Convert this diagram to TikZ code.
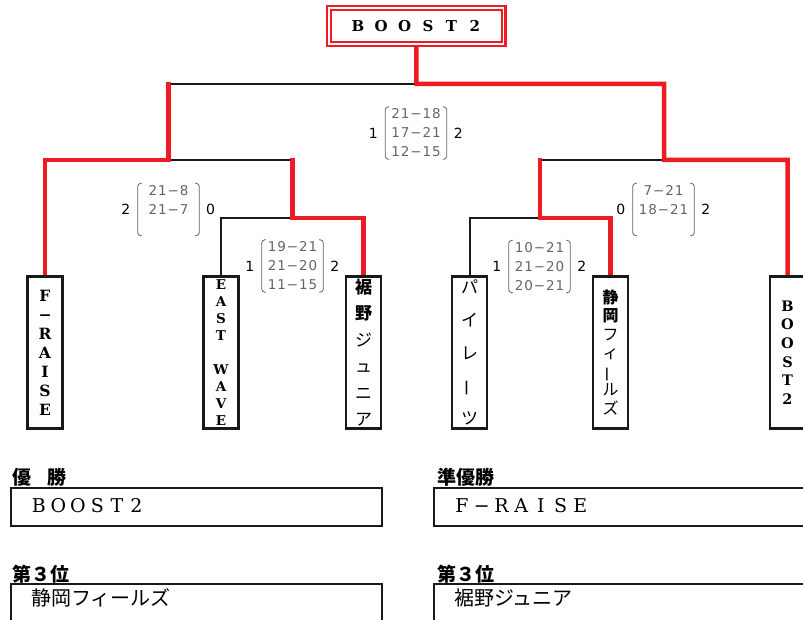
\documentclass[tikz,border=0pt]{standalone}
\usepackage{fontspec}
\usepackage{graphicx}
\usetikzlibrary{backgrounds}
\setmainfont{DejaVu Serif}
\newfontfamily\jpfont{Noto Sans CJK JP}
\newfontfamily\scorefont{DejaVu Sans}[LetterSpace=7]
\newfontfamily\numfont{DejaVu Sans}
\definecolor{winred}{RGB}{237,28,36}
\definecolor{scoregray}{RGB}{100,100,100}
\newcommand\vbar{\rotatebox[origin=c]{90}{ー}}
\newcommand\fwc[2]{\makebox[#1]{#2}}
\newcommand\scoreblk[6]{%
  \node[brk] (#1) at (#2,#3) {};
  \draw[brkline] ([xshift=4]#1.north west) -- (#1.north west) -- (#1.south west) -- ([xshift=4]#1.south west);
  \draw[brkline] ([xshift=-4]#1.north east) -- (#1.north east) -- (#1.south east) -- ([xshift=-4]#1.south east);
  \node[rows, anchor=north] (#1rows) at ([yshift=-1.5]#1.north) {#6};
  \node[outnum] (#1l) at ([xshift=-12]#1.west) {#4};
  \node[outnum] (#1r) at ([xshift=11.5]#1.east) {#5};
}
\begin{document}
\begin{tikzpicture}[x=1pt,y=-1pt,
  win/.style={draw=winred, line width=4.5pt, line cap=rect},
  lose/.style={draw=black!90, line width=2pt},
  leaf/.style={draw=black!90, line width=2.2pt, minimum width=35, minimum height=152, inner sep=0, align=center},
  topbox/.style={draw=winred, double=white, double distance=1.3pt, line width=2.3pt, minimum width=174.8, minimum height=36.1, inner sep=0},
  brk/.style={minimum width=61, minimum height=52, inner sep=0},
  brkline/.style={draw=scoregray, line width=0.8pt, rounded corners=3pt},
  rows/.style={inner sep=0, align=center, text=scoregray, font=\scorefont\fontsize{13.5}{19}\selectfont},
  outnum/.style={inner sep=0, font=\numfont\fontsize{14}{16}\selectfont},
  resbox/.style={draw=black!90, line width=2pt, inner sep=0, anchor=north west},
  lbl/.style={inner sep=0, anchor=west, font=\jpfont\bfseries\fontsize{19}{21}\selectfont},
  restext/.style={inner sep=0, anchor=west}
]
\useasboundingbox (0,0) rectangle (803,620);
\clip (0,0) rectangle (803,620);

% final winner box
\node[topbox, font=\bfseries\fontsize{15}{17}\selectfont] (top) at (416.35,26) {\fwc{23.4pt}{B}\fwc{23.4pt}{O}\fwc{23.4pt}{O}\fwc{23.4pt}{S}\fwc{23.4pt}{T}\fwc{23.4pt}{2}};

% leaves
\node[leaf, font=\bfseries\fontsize{15.5}{19}\selectfont] (fr) at (45,352.5) {F\\−\\R\\A\\I\\S\\E};
\node[leaf, font=\bfseries\fontsize{13.5}{17.1}\selectfont] (ew) at (221,352.5) {E\\A\\S\\T\\[17.1pt]W\\A\\V\\E};
\node[leaf, font=\jpfont\fontsize{17}{26.4}\selectfont] (su) at (363.5,352.5) {\textbf{裾}\\\textbf{野}\\ジ\\ュ\\ニ\\ア};
\node[leaf, font=\jpfont\fontsize{17}{32.75}\selectfont] (pi) at (469.5,352.5) {パ\\イ\\レ\\\vbar\\ツ};
\node[leaf, font=\jpfont\fontsize{16}{18.5}\selectfont] (sh) at (610.5,352.5) {\textbf{静}\\\textbf{岡}\\フ\\ィ\\\vbar\\ル\\ズ};
\node[leaf, font=\bfseries\fontsize{14.5}{18.6}\selectfont] (bo) at (787.5,352.5) {B\\O\\O\\S\\T\\2};

% junctions
\coordinate (fin) at (416.5,84);
\coordinate (sL) at (168.5,160);
\coordinate (qL) at (292.5,218);
\coordinate (sR) at (664,160);
\coordinate (qR) at (540,218);

\begin{scope}[on background layer]
  \draw[lose] (ew.north) |- (qL);
  \draw[lose] (sL) -| (qL);
  \draw[lose] (fin) -| (sL);
  \draw[lose] (pi.north) |- (qR);
  \draw[lose] (qR) |- (sR);
  \draw[win] (fr.north) |- (sL) -- (sL |- fin);
  \draw[win] (su.north) |- (qL) -- (qL |- sL);
  \draw[win] (sh.north) |- (qR) -- (qR |- sR);
  \draw[win] (bo.north) |- (sR) -- (sR |- fin) -- (fin) -- (top.south);
\end{scope}

% scores
\scoreblk{sf}{416}{133}{1}{2}{21−18\\17−21\\12−15}
\scoreblk{ssl}{168.5}{209.5}{2}{0}{21−8\\21−7}
\scoreblk{sql}{292.5}{266}{1}{2}{19−21\\21−20\\11−15}
\scoreblk{ssr}{663.5}{209.5}{0}{2}{7−21\\18−21}
\scoreblk{sqr}{539.5}{266.5}{1}{2}{10−21\\21−20\\20−21}

% results
\node[lbl] (l1) at (12,477) {優\hspace{16pt}勝};
\node[resbox, minimum width=371, minimum height=38] (b1) at (10,487) {};
\node[restext, font=\fontsize{19}{21}\selectfont] (t1) at (29,506) {\fwc{19.5pt}{B}\fwc{19.5pt}{O}\fwc{19.5pt}{O}\fwc{19.5pt}{S}\fwc{19.5pt}{T}\fwc{19.5pt}{2}};

\node[lbl] (l2) at (437,477) {準優勝};
\node[resbox, minimum width=400, minimum height=38] (b2) at (433,487) {};
\node[restext, font=\fontsize{19}{21}\selectfont] (t2) at (452,506) {\fwc{19.7pt}{F}\fwc{19.7pt}{−}\fwc{19.7pt}{R}\fwc{19.7pt}{A}\fwc{19.7pt}{I}\fwc{19.7pt}{S}\fwc{19.7pt}{E}};

\node[lbl] (l3) at (12,574) {第３位};
\node[resbox, minimum width=371, minimum height=60] (b3) at (10,583) {};
\node[restext, font=\jpfont\fontsize{20}{22}\selectfont] (t3) at (31,598) {静岡フィールズ};

\node[lbl] (l4) at (437,574) {第３位};
\node[resbox, minimum width=400, minimum height=60] (b4) at (433,583) {};
\node[restext, font=\jpfont\fontsize{20}{22}\selectfont] (t4) at (454,598) {裾野ジュニア};
\end{tikzpicture}
\end{document}
